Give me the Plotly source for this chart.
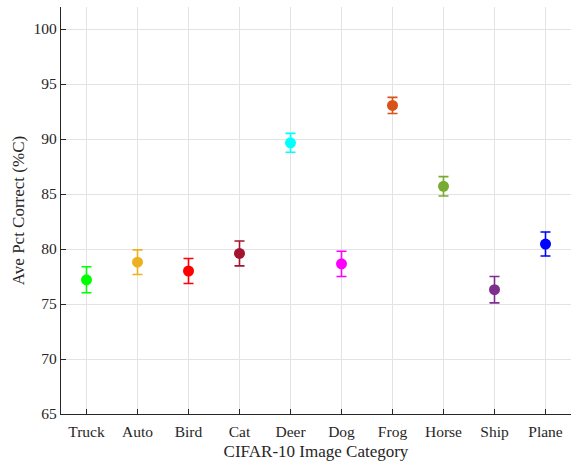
import plotly.graph_objects as go

categories = ["Truck", "Auto", "Bird", "Cat", "Deer", "Dog", "Frog", "Horse", "Ship", "Plane"]
means = [77.2, 78.8, 78.0, 79.6, 89.65, 78.65, 93.05, 85.7, 76.3, 80.45]
errors = [1.18, 1.12, 1.14, 1.13, 0.86, 1.15, 0.73, 0.88, 1.2, 1.09]
colors = ["#00FF00", "#EDB120", "#FF0000", "#A2142F", "#00FFFF",
          "#FF00FF", "#D95319", "#77AC30", "#7E2F8E", "#0000FF"]
yticks = [65, 70, 75, 80, 85, 90, 95, 100]

fig = go.Figure()
for i, (c, m, e, col) in enumerate(zip(categories, means, errors, colors)):
    fig.add_trace(go.Scatter(
        x=[i + 1], y=[m], mode="markers",
        marker=dict(color=col, size=11, line=dict(width=0)),
        error_y=dict(type="data", array=[e], color=col, thickness=1.6, width=5),
        showlegend=False, name=c))

font = "Liberation Serif, Times New Roman, serif"
fig.update_layout(
    width=571, height=464,
    margin=dict(l=61, r=0, t=7, b=50),
    paper_bgcolor="white", plot_bgcolor="white",
    font=dict(family=font, color="#262626", size=15),
    xaxis=dict(
        range=[0.5, 10.5], tickmode="array",
        tickvals=list(range(1, len(categories) + 1)), ticktext=categories,
        showgrid=True, gridcolor="#e3e3e3", gridwidth=1,
        showline=True, linecolor="#262626", linewidth=1.2,
        ticks="inside", ticklen=5, tickcolor="#262626",
        tickfont=dict(size=15.5), zeroline=False, automargin=False,
        ticklabelstandoff=3,
        title=dict(text="CIFAR-10 Image Category", font=dict(size=17), standoff=6),
    ),
    yaxis=dict(
        range=[65, 102], tickmode="array", tickvals=yticks,
        showgrid=True, gridcolor="#e3e3e3", gridwidth=1,
        showline=True, linecolor="#262626", linewidth=1.2,
        ticks="inside", ticklen=5, tickcolor="#262626",
        tickfont=dict(size=15.5), zeroline=False, automargin=False,
        title=dict(text="Ave Pct Correct (%C)", font=dict(size=17), standoff=4),
    ),
)

fig.write_html("out.html", config={"displayModeBar": False},
               post_script="document.body.style.margin='0';document.body.style.overflow='hidden';")
